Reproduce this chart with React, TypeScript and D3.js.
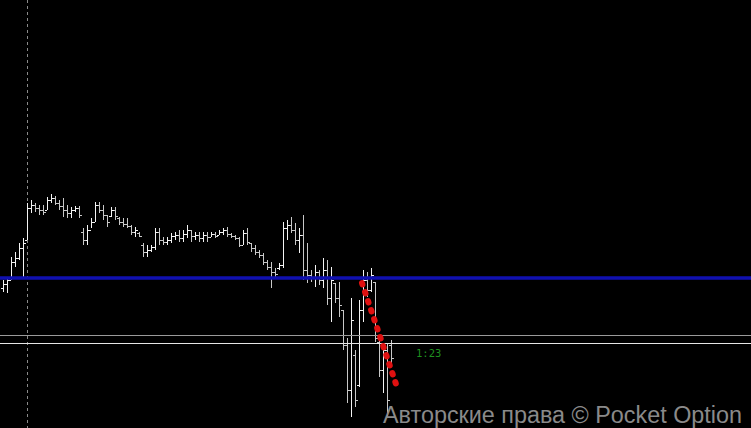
import React, { useEffect, useRef } from 'react';
import * as d3 from 'd3';

// price points per bar (arbitrary quote units)
const highs = [220, 223, 243, 248, 257, 262, 297, 300, 297, 295, 295, 303, 306, 304, 300, 302, 295, 293, 294, 294,
  272, 275, 282, 298, 298, 295, 285, 293, 293, 283, 282, 282, 275, 273, 268, 257, 255, 255, 272, 272,
  263, 263, 267, 268, 270, 270, 275, 270, 268, 268, 268, 268, 268, 268, 270, 272, 273, 267, 265, 263,
  270, 272, 257, 255, 250, 247, 240, 238, 232, 237, 278, 280, 283, 277, 272, 285, 257, 230, 235, 230,
  242, 240, 233, 217, 218, 190, 162, 202, 150, 200, 230, 228, 232, 218, 160, 157, 157, 160];
const lows = [208, 207, 220, 233, 240, 223, 260, 287, 288, 285, 285, 290, 297, 295, 290, 283, 282, 282, 288, 282,
  255, 255, 272, 278, 287, 280, 273, 283, 280, 275, 273, 272, 265, 263, 263, 243, 243, 248, 250, 255,
  255, 255, 257, 260, 258, 258, 262, 258, 260, 258, 258, 258, 263, 262, 265, 265, 263, 262, 260, 253,
  255, 255, 248, 245, 242, 235, 230, 212, 223, 230, 232, 260, 267, 255, 247, 220, 217, 218, 213, 215,
  212, 195, 178, 197, 183, 150, 97, 83, 93, 113, 178, 203, 208, 158, 123, 107, 83, 137];
const opens = [212, 216, 220, 238, 242, 252, 260, 292, 295, 292, 290, 290, 300, 302, 297, 294, 290, 287, 290, 292,
  268, 260, 270, 278, 295, 290, 285, 284, 290, 282, 278, 276, 274, 268, 267, 255, 248, 250, 253, 268,
  260, 258, 260, 264, 265, 262, 266, 270, 264, 265, 262, 265, 263, 266, 265, 268, 270, 266, 264, 262,
  255, 267, 257, 252, 248, 245, 238, 233, 228, 232, 235, 272, 275, 270, 260, 265, 230, 225, 222, 228,
  220, 230, 202, 217, 202, 190, 155, 110, 145, 115, 190, 220, 210, 218, 158, 130, 150, 155];
const closes = [216, 220, 238, 242, 252, 257, 292, 295, 292, 290, 288, 300, 302, 297, 294, 290, 287, 290, 292, 285,
  260, 270, 278, 295, 290, 285, 278, 290, 284, 278, 276, 274, 268, 270, 264, 248, 250, 253, 268, 260,
  258, 260, 264, 265, 262, 266, 270, 264, 265, 262, 265, 263, 266, 264, 268, 270, 266, 264, 262, 255,
  267, 258, 252, 248, 245, 238, 233, 228, 226, 235, 272, 275, 270, 260, 265, 230, 225, 222, 228, 220,
  230, 202, 220, 202, 195, 155, 110, 180, 100, 190, 220, 210, 225, 162, 130, 150, 100, 142];

const blueLevel = 222;
const grayLevels = [165, 157];
const markerBar = 6;
const trendLine = [
  { i: 89.75, p: 217 },
  { i: 98.75, p: 110 },
];
const timerLabel = '1:23';
const watermark = 'Авторские права © Pocket Option';

const W = 751;
const H = 428;

export default function App() {
  const svgRef = useRef<SVGSVGElement | null>(null);

  useEffect(() => {
    if (!svgRef.current) return;
    const svg = d3.select(svgRef.current);
    svg.selectAll('*').remove();

    const x = d3.scaleLinear().domain([0, highs.length - 1]).range([3, 391]);
    const y = d3.scaleLinear().domain([72, 500]).range([H, 0]);

    svg.append('rect').attr('width', W).attr('height', H).attr('fill', '#000');

    // vertical period separator
    svg.append('line')
      .attr('x1', Math.round(x(markerBar)) + 0.5).attr('x2', Math.round(x(markerBar)) + 0.5)
      .attr('y1', 0).attr('y2', H)
      .attr('stroke', '#8a8a8a').attr('stroke-width', 1).attr('stroke-dasharray', '3,3');

    const bars = d3.range(highs.length).map((i) => ({
      i, h: highs[i], l: lows[i], o: opens[i], c: closes[i],
    }));

    const g = svg.append('g').attr('shape-rendering', 'crispEdges');
    const color = (d: any) => (d.c >= d.o ? '#f4f4f4' : '#c8c8c8');
    g.selectAll('line.hl').data(bars).enter().append('line')
      .attr('x1', (d) => Math.round(x(d.i)) + 0.5).attr('x2', (d) => Math.round(x(d.i)) + 0.5)
      .attr('y1', (d) => y(d.h)).attr('y2', (d) => y(d.l))
      .attr('stroke', color).attr('stroke-width', 1);
    g.selectAll('line.o').data(bars).enter().append('line')
      .attr('x1', (d) => Math.round(x(d.i)) - 2).attr('x2', (d) => Math.round(x(d.i)))
      .attr('y1', (d) => Math.round(y(d.o)) + 0.5).attr('y2', (d) => Math.round(y(d.o)) + 0.5)
      .attr('stroke', color).attr('stroke-width', 1);
    g.selectAll('line.c').data(bars).enter().append('line')
      .attr('x1', (d) => Math.round(x(d.i)) + 1).attr('x2', (d) => Math.round(x(d.i)) + 3)
      .attr('y1', (d) => Math.round(y(d.c)) + 0.5).attr('y2', (d) => Math.round(y(d.c)) + 0.5)
      .attr('stroke', color).attr('stroke-width', 1);

    // horizontal levels
    svg.append('line')
      .attr('x1', 0).attr('x2', W).attr('y1', y(blueLevel)).attr('y2', y(blueLevel))
      .attr('stroke', '#1010b0').attr('stroke-width', 3.5);
    svg.selectAll('line.lvl').data(grayLevels).enter().append('line')
      .attr('x1', 0).attr('x2', W)
      .attr('y1', (d) => Math.round(y(d)) + 0.5).attr('y2', (d) => Math.round(y(d)) + 0.5)
      .attr('stroke', (d, k) => (k === 0 ? '#9a9a9a' : '#e6e6e6')).attr('stroke-width', 1);

    // dotted trend line
    const line = d3.line<{ i: number; p: number }>().x((d) => x(d.i)).y((d) => y(d.p));
    svg.append('path').attr('d', line(trendLine) || '')
      .attr('fill', 'none').attr('stroke', '#e01010').attr('stroke-width', 6)
      .attr('stroke-linecap', 'round').attr('stroke-dasharray', '1.5,8');

    svg.append('text').attr('x', 416).attr('y', 357)
      .attr('fill', '#1f8f1f').attr('font-family', '"DejaVu Sans Mono", monospace')
      .attr('font-size', 10.5).text(timerLabel);

    svg.append('text').attr('x', 383).attr('y', 423)
      .attr('fill', '#8a8a8a')
      .attr('font-family', '"Liberation Sans", Arial, sans-serif')
      .attr('font-size', 23.5).attr('textLength', 359).attr('lengthAdjust', 'spacingAndGlyphs')
      .text(watermark);
  }, []);

  return (
    <div style={{ position: 'fixed', left: 0, top: 0, width: W, height: H, background: '#000' }}>
      <svg ref={svgRef} width={W} height={H} style={{ display: 'block' }} />
    </div>
  );
}
